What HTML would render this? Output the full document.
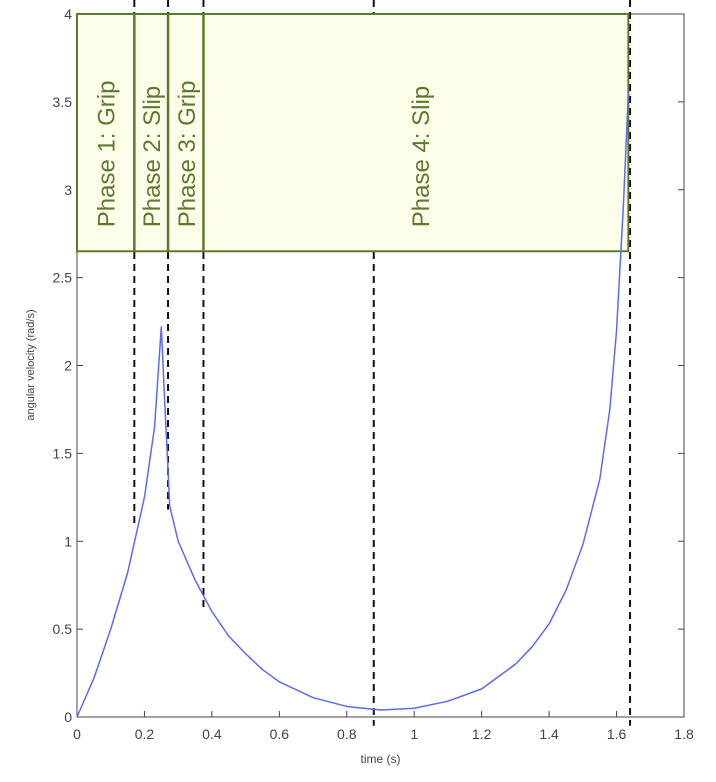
<!DOCTYPE html>
<html><head><meta charset="utf-8"><style>body{margin:0;background:#fff}svg{display:block;font-family:"Liberation Sans",sans-serif}</style></head>
<body>
<svg id="c" width="716" height="782" viewBox="0 0 716 782"></svg>
<script>
const xTicks=[0,0.2,0.4,0.6,0.8,1,1.2,1.4,1.6,1.8];
const yTicks=[0,0.5,1,1.5,2,2.5,3,3.5,4];
const curveT=[0,0.05,0.1,0.15,0.2,0.23,0.25,0.26,0.275,0.3,0.35,0.4,0.45,0.5,0.55,0.6,0.7,0.8,0.9,1.0,1.1,1.2,1.3,1.35,1.4,1.45,1.5,1.55,1.58,1.6,1.62,1.635];
const curveV=[0,0.22,0.5,0.82,1.25,1.65,2.22,1.8,1.2,1.0,0.78,0.6,0.46,0.36,0.27,0.2,0.11,0.06,0.04,0.05,0.09,0.16,0.3,0.4,0.53,0.72,0.98,1.35,1.75,2.2,2.9,3.55];
const phaseT=[0,0.17,0.27,0.375,1.635];
const phaseNames=["Phase 1: Grip","Phase 2: Slip","Phase 3: Grip","Phase 4: Slip"];
const dashT=[0.17,0.27,0.375,0.88,1.64];
const dashEnd=[1.08,1.18,0.6,-0.05,-0.05];
const boxBottom=2.65;
const X0=77,X1=684,Y0=717,Y1=14;
const sx=v=>X0+(v-0)/(1.8)*(X1-X0), sy=v=>Y0-(v/4)*(Y0-Y1);
const svg=document.getElementById('c'),NS='http://www.w3.org/2000/svg';
function mk(t,a,p){const e=document.createElementNS(NS,t);for(const k in a)e.setAttribute(k,a[k]);(p||svg).appendChild(e);return e;}
let e;
e=mk('rect',{x:X0,y:Y1,width:X1-X0,height:Y0-Y1,fill:'#fff',stroke:'#444','stroke-width':1});

xTicks.forEach(t=>{const x=sx(t);mk('line',{x1:x,x2:x,y1:Y0,y2:Y0-6,stroke:'#444'});mk('line',{x1:x,x2:x,y1:Y1,y2:Y1+6,stroke:'#444'});
 e=mk('text',{x:x,y:Y0+22,'text-anchor':'middle','font-size':14,fill:'#444'});e.textContent=t;
 });
yTicks.forEach(t=>{const y=sy(t);mk('line',{x1:X0,x2:X0+6,y1:y,y2:y,stroke:'#444'});mk('line',{x1:X1,x2:X1-6,y1:y,y2:y,stroke:'#444'});
 e=mk('text',{x:X0-5,y:y+5,'text-anchor':'end','font-size':14,fill:'#444'});e.textContent=t;
 });
e=mk('text',{x:sx(0.9),y:763,'text-anchor':'middle','font-size':12,fill:'#444'});e.textContent='time (s)';

e=mk('text',{x:0,y:0,transform:'translate(34,365) rotate(-90)','text-anchor':'middle','font-size':11,fill:'#444'});e.textContent='angular velocity (rad/s)';

// dashed lines (under box)
dashT.forEach((t,i)=>{e=mk('line',{x1:sx(t),x2:sx(t),y1:0,y2:sy(dashEnd[i]),stroke:'#111','stroke-width':2,'stroke-dasharray':'7,5'});
 });
// phase box
e=mk('rect',{x:sx(phaseT[0]),y:sy(4),width:sx(phaseT[4])-sx(phaseT[0]),height:sy(boxBottom)-sy(4),fill:'#fdfde9',stroke:'#5b7a2f','stroke-width':2});

for(let i=1;i<4;i++){e=mk('line',{x1:sx(phaseT[i]),x2:sx(phaseT[i]),y1:sy(4),y2:sy(boxBottom),stroke:'#5b7a2f','stroke-width':2.5});
 }
phaseNames.forEach((n,i)=>{let cx=(sx(phaseT[i])+sx(phaseT[i+1]))/2+9;if(i==3)cx=sx(0.88)+55;
 e=mk('text',{x:0,y:0,transform:`translate(${cx},${sy(2.65)-24}) rotate(-90)`,'font-size':24,fill:'#5b7a2f'});
 e.textContent=n;
 });
// curve
e=mk('polyline',{points:curveT.map((t,i)=>sx(t)+','+sy(curveV[i])).join(' '),fill:'none',stroke:'#5a6cf0','stroke-width':1.5,'stroke-linejoin':'round'});

</script>
</body></html>
